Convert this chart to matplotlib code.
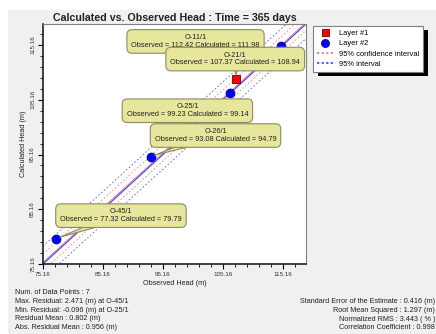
import matplotlib.pyplot as plt
import matplotlib.patches as mpatches
import numpy as np

plt.rcParams['font.family'] = ['Liberation Sans', 'DejaVu Sans']

# observation wells: name, observed head, calculated head, layer
names = ["O-11/1", "O-21/1", "O-25/1", "O-26/1", "O-45/1", "", ""]
observed = [112.42, 107.37, 99.23, 93.08, 77.32, 106.28, 114.80]
calculated = [111.98, 108.94, 99.14, 94.79, 79.79, 106.45, 115.00]
layer = [2, 1, 2, 2, 2, 2, 2]

# callout offsets in pixels (box centre relative to point)
label_offsets = [(-71, 21), (-1, 20), (0, 22), (65, 21), (65, 23), None, None]

axis_min, axis_max = 75.16, 119.0
major_ticks = [75.16, 85.16, 95.16, 105.16, 115.16]

# regression shift and half widths of the intervals
reg_shift = 0.3
conf_half = 1.5
pred_half = 2.97

stats_left = ["Num. of Data Points : 7",
              "Max. Residual: 2.471 (m) at O-45/1",
              "Min. Residual: -0.096 (m) at O-25/1",
              "Residual Mean : 0.802 (m)",
              "Abs. Residual Mean : 0.956 (m)"]
stats_right = ["Standard Error of the Estimate : 0.416 (m)",
               "Root Mean Squared : 1.297 (m)",
               "Normalized RMS : 3.443 ( % )",
               "Correlation Coefficient : 0.998"]

W, H = 436, 334
fig = plt.figure(figsize=(W / 100, H / 100), dpi=100)
fig.patch.set_facecolor('white')
fig.add_artist(mpatches.Rectangle((8 / W, 0), 1, 1 - 10 / H, transform=fig.transFigure,
                                  fc='#f0f0f0', ec='none', zorder=-10))

ax = fig.add_axes([43 / W, 1 - 264 / H, 263 / W, 240 / H])
ax.set_facecolor('white')
ax.set_xlim(axis_min, axis_max)
ax.set_ylim(axis_min, axis_max)

xl = np.array([axis_min, axis_max])
ax.plot(xl, xl + reg_shift, color='#ff5050', lw=0.5, zorder=2)
ax.plot(xl, xl, color='#3838ff', lw=0.8, zorder=2)
conf_lines = []
pred_lines = []
for s in (-1, 1):
    conf_lines += ax.plot(xl, xl + reg_shift + s * conf_half, color='#ff8080', lw=0.6,
                          ls=(0, (2, 2.5)), zorder=2)
    pred_lines += ax.plot(xl, xl + reg_shift + s * pred_half, color='#5a5aff', lw=0.6,
                          ls=(0, (2, 2.5)), zorder=2)

obs = np.array(observed)
calc = np.array(calculated)
lay = np.array(layer)
h1, = ax.plot(obs[lay == 1], calc[lay == 1], 's', color='#ff0000', mec='#600000', mew=0.6,
              ms=5.6, zorder=3)
h2, = ax.plot(obs[lay == 2], calc[lay == 2], 'o', color='#0000ff', mec='#000080', mew=0.5,
              ms=6.5, zorder=3)

box_fc = '#e6e69c'
box_ec = '#8c8c60'
for nm, xo, yo, off in zip(names, observed, calculated, label_offsets):
    if off is None:
        continue
    ax.annotate(f"{nm}\nObserved = {xo:.2f} Calculated = {yo:.2f}", xy=(xo, yo),
                xytext=off, textcoords='offset pixels', ha='center', va='center',
                multialignment='center', fontsize=5.3, color='#222222', linespacing=1.15,
                bbox=dict(boxstyle='round,pad=0.6,rounding_size=0.7', fc=box_fc, ec=box_ec, lw=0.8),
                arrowprops=dict(arrowstyle='wedge,tail_width=1.2,shrink_factor=0.5', fc=box_fc,
                                ec=box_ec, lw=0.8, patchA=None, shrinkA=0, shrinkB=3),
                zorder=5, annotation_clip=False)

ax.set_xticks(major_ticks)
ax.set_yticks(major_ticks)
ax.set_xticks(np.arange(axis_min, axis_max, 2), minor=True)
ax.set_yticks(np.arange(axis_min, axis_max, 2), minor=True)
ax.set_xticklabels([f"{t:.2f}" for t in major_ticks])
ax.set_yticklabels([f"{t:.2f}" for t in major_ticks], rotation=90, va='center')
ax.tick_params(which='major', direction='out', length=3.6, width=0.8, labelsize=4.5,
               labelcolor='#333333', pad=2)
ax.tick_params(which='minor', direction='out', length=2.0, width=0.6)
for side in ('left', 'bottom'):
    ax.spines[side].set_linewidth(1.2)
    ax.spines[side].set_color('#202020')
for side in ('top', 'right'):
    ax.spines[side].set_linewidth(0.8)
    ax.spines[side].set_color('#808080')

ax.set_xlabel("Observed Head (m)", fontsize=5.2, color='#222222', labelpad=2)
ax.set_ylabel("Calculated Head (m)", fontsize=5.2, color='#222222', labelpad=2)
ax.set_title("Calculated vs. Observed Head : Time = 365 days", fontsize=7.7, fontweight='bold',
             color='#222222', pad=2.5)

leg = fig.legend([h1, h2, conf_lines[0], pred_lines[0]],
                 ["Layer #1", "Layer #2", "95% confidence interval", "95% interval"],
                 loc='upper left', bbox_to_anchor=(313 / W, 1 - 26 / H), borderaxespad=0,
                 fontsize=5.4, fancybox=False, frameon=True, edgecolor='#808080',
                 facecolor='white', framealpha=1, markerscale=0.9,
                 handlelength=2.1, handletextpad=0.9, borderpad=0.5, labelspacing=0.4)
leg.get_frame().set_linewidth(0.8)
leg.set_zorder(6)
leg_lines = leg.get_lines()
leg_lines[2].set_color('#ff6060')
leg_lines[3].set_color('#3030ff')
for ln in leg_lines[2:]:
    ln.set_linewidth(1.1)
    ln.set_dashes((1.5, 1.5))

for i, s in enumerate(stats_left):
    fig.text(15 / W, 1 - (292.3 + i * 8.85) / H, s, fontsize=5.2, color='#222222', va='center')
for i, s in enumerate(stats_right):
    fig.text(435 / W, 1 - (301.7 + i * 8.7) / H, s, fontsize=5.2, color='#222222',
             va='center', ha='right')

# black drop shadow behind the legend box
fig.canvas.draw()
bb = leg.get_window_extent()
fig.add_artist(mpatches.Rectangle(((bb.x0 + 5) / W, (bb.y0 - 4) / H), bb.width / W, bb.height / H,
                                  transform=fig.transFigure, fc='black', ec='none', zorder=5))

fig.savefig("out.png", dpi=100)
